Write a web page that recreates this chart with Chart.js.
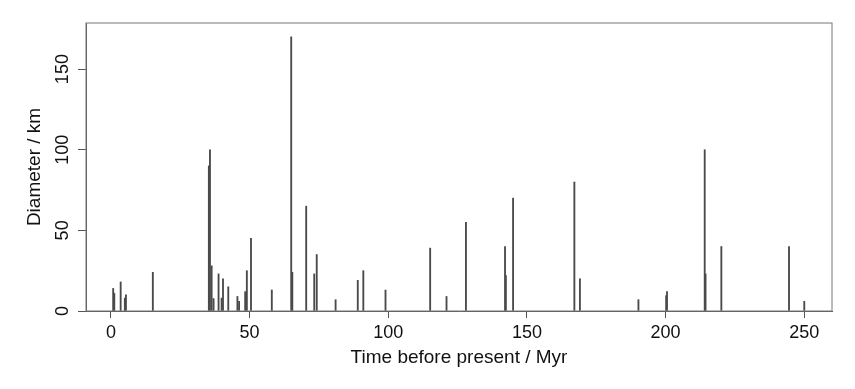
<!DOCTYPE html>
<html>
<head>
<meta charset="utf-8">
<script src="https://cdn.jsdelivr.net/npm/chart.js@4"></script>
<style>
  html, body { margin: 0; padding: 0; background: #fff; }
  #chart { display: block; }
</style>
</head>
<body>
<canvas id="chart" width="855" height="389"></canvas>
<script>
// Impact craters: age (Myr) and diameter (km)
const ages = [0.8, 1.2, 3.5, 5.0, 5.4, 15.1, 35.3, 35.7, 36.3, 37.0, 38.8, 39.9, 40.4, 42.3, 45.6, 46.2, 48.4, 49.0, 50.5, 58.0,
    65.0, 65.4, 70.4, 73.3, 74.2, 81.0, 89.0, 91.0, 99.0, 115.1, 121.0, 128.0, 142.1, 142.4, 145.0, 167.1, 169.1,
    190.2, 200.2, 200.5, 214.1, 214.4, 220.1, 244.5, 250.0];
const diameters = [14, 11, 18, 8, 10, 24, 90, 100, 28, 7.7, 23, 8, 20, 15, 9, 6, 12, 25, 45, 13,
    170, 24, 65, 23, 35, 7, 19, 25, 13, 39, 9, 55, 40, 22, 70, 80, 20,
    7, 9.5, 12, 100, 23, 40, 40, 6];
const xTicks = [0, 50, 100, 150, 200, 250];
const yTicks = [0, 50, 100, 150];

const font = 'Liberation Sans, Arial, Helvetica, sans-serif';
const axisColor = '#555';

// box around the plot + y labels rotated like R
const framePlugin = {
    id: 'frame',
    afterDraw(chart) {
        const ctx = chart.ctx;
        const a = chart.chartArea;
        ctx.save();
        ctx.strokeStyle = '#777';
        ctx.lineWidth = 1;
        ctx.strokeRect(a.left, a.top, a.right - a.left, a.bottom - a.top);

        const y = chart.scales.y;
        ctx.fillStyle = '#111';
        ctx.font = '18px ' + font;
        ctx.textAlign = 'center';
        ctx.textBaseline = 'middle';
        yTicks.forEach(v => {
            ctx.save();
            ctx.translate(63, y.getPixelForValue(v));
            ctx.rotate(-Math.PI / 2);
            ctx.fillText(String(v), 0, 0);
            ctx.restore();
        });
        ctx.restore();
    }
};

const ctx = document.getElementById('chart').getContext('2d');
new Chart(ctx, {
    type: 'bar',
    data: {
        datasets: [{
            data: ages.map((t, i) => ({ x: t, y: diameters[i] })),
            backgroundColor: '#4a4a4a',
            borderWidth: 0,
            barThickness: 1.2
        }]
    },
    options: {
        responsive: false,
        animation: false,
        layout: { padding: { top: 23, right: 23, left: 0, bottom: 0 } },
        plugins: {
            legend: { display: false },
            tooltip: { enabled: false }
        },
        scales: {
            x: {
                type: 'linear',
                min: -9,
                max: 260,
                offset: false,
                afterBuildTicks: s => { s.ticks = xTicks.map(v => ({ value: v })); },
                afterFit: s => { s.height = 78; },
                grid: { offset: false, drawOnChartArea: false, drawTicks: true, tickLength: 7, color: axisColor },
                border: { display: true, color: axisColor },
                ticks: { padding: 4, color: '#111', font: { family: font, size: 18 }, maxRotation: 0 },
                title: {
                    display: true,
                    text: 'Time before present / Myr',
                    color: '#111',
                    font: { family: font, size: 19 },
                    padding: { top: 0, bottom: 20 }
                }
            },
            y: {
                min: 0,
                max: 178.6,
                afterBuildTicks: s => { s.ticks = yTicks.map(v => ({ value: v })); },
                afterFit: s => { s.width = 86; },
                grid: { offset: false, drawOnChartArea: false, drawTicks: true, tickLength: 8, color: axisColor },
                border: { display: true, color: axisColor },
                ticks: { display: false },
                title: {
                    display: true,
                    text: 'Diameter / km',
                    color: '#111',
                    font: { family: font, size: 19 },
                    padding: { top: 23, bottom: 0 }
                }
            }
        }
    },
    plugins: [framePlugin]
});
</script>
</body>
</html>
